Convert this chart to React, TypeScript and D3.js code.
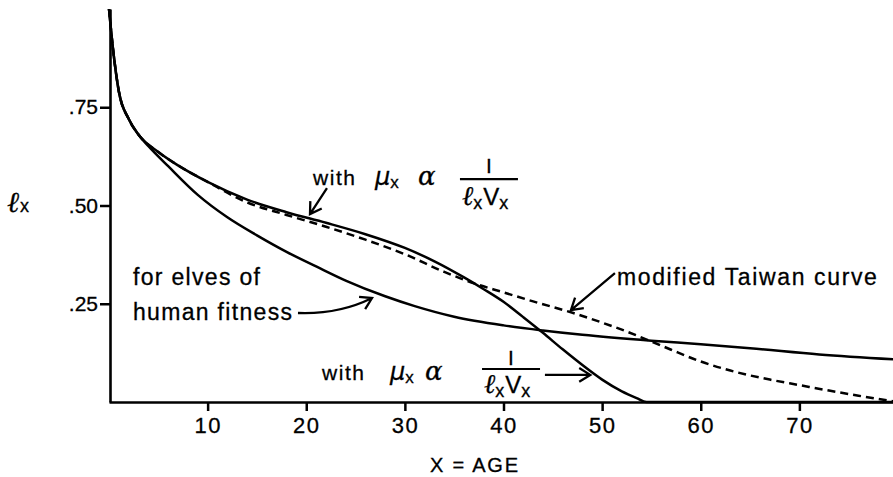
import {useEffect, useRef} from 'react';
import * as d3 from 'd3';

const WIDTH = 893;
const HEIGHT = 477;

// l_x (survivorship) against age
const elvesAge = [0, 0.4, 1, 2, 3, 4, 6, 9, 12, 15, 18, 21, 24, 28, 31, 35, 40, 44, 48, 55, 60, 65, 72, 80];
const elvesLx = [1.0, 0.9, 0.79, 0.72, 0.68, 0.651, 0.6, 0.527, 0.47, 0.424, 0.382, 0.345, 0.309, 0.269, 0.244, 0.217, 0.195, 0.182, 0.171, 0.156, 0.147, 0.137, 0.121, 0.108];

const lxvxAge = [0, 0.4, 1, 2, 3, 5, 7, 10, 14, 18, 22, 26, 30, 33, 36, 38, 40, 42, 44, 46, 48, 50, 52, 53.5, 54.5, 60, 70, 80];
const lxvxLx = [1.0, 0.9, 0.79, 0.72, 0.68, 0.636, 0.602, 0.56, 0.515, 0.483, 0.456, 0.427, 0.392, 0.358, 0.317, 0.287, 0.255, 0.216, 0.176, 0.134, 0.094, 0.057, 0.027, 0.01, 0, 0, 0, 0];

const taiwanAge = [0, 0.4, 1, 2, 3, 5, 7, 10, 14, 18, 22, 26, 30, 34, 37, 40, 43, 47, 50, 52, 55, 57, 60, 63, 67, 70, 73, 76, 80];
const taiwanLx = [1.0, 0.9, 0.79, 0.72, 0.68, 0.636, 0.602, 0.56, 0.508, 0.476, 0.446, 0.413, 0.376, 0.331, 0.302, 0.279, 0.256, 0.227, 0.202, 0.184, 0.154, 0.133, 0.103, 0.08, 0.057, 0.043, 0.029, 0.016, 0];

const xTicks = [10, 20, 30, 40, 50, 60, 70];
const xTickLabels = ['10', '20', '30', '40', '50', '60', '70'];
const yTicks = [0.25, 0.5, 0.75];
const yTickLabels = ['.25', '.50', '.75'];

// annotation anchors, in (age, l_x)
const upperWith: [number, number] = [20.68, 0.552];
const upperArrow: [number, number][] = [[22.1, 0.5445], [20.38, 0.478]];
const lowerWith: [number, number] = [21.6, 0.056];
const lowerArrow: [number, number][] = [[44.2, 0.069], [48.8, 0.069]];
const elvesText: [number, number] = [2.43, 0.298];
const elvesText2: [number, number] = [2.43, 0.209];
const elvesArrow: [number, number][] = [[19.16, 0.2265], [23.32, 0.2226], [26.67, 0.2646]];
const taiwanText: [number, number] = [51.5, 0.298];
const taiwanArrow: [number, number][] = [[51.3, 0.328], [46.84, 0.234]];

const FONT = '"Liberation Sans", Arial, sans-serif';
const INK = 0.3; // thickens the lettering a little

const App = () => {
  const svgRef = useRef<SVGSVGElement | null>(null);

  useEffect(() => {
    if (!svgRef.current) return;
    const svg = d3.select(svgRef.current);
    svg.selectAll('*').remove();

    const x = d3.scaleLinear().domain([0, 80]).range([109, 898]);
    const y = d3.scaleLinear().domain([0, 1]).range([402, 9]);
    const px = (p: [number, number]): [number, number] => [x(p[0]), y(p[1])];

    // axes
    const xAxis = svg
      .append('g')
      .attr('transform', `translate(0,${y(0)})`)
      .call(
        d3
          .axisBottom(x)
          .tickValues(xTicks)
          .tickFormat((_, i) => xTickLabels[i])
          .tickSize(9)
          .tickSizeOuter(0)
          .tickPadding(6)
      );
    xAxis.select('.domain').attr('stroke-width', 2.6);
    xAxis.selectAll('.tick line').attr('stroke-width', 2.5);
    xAxis
      .selectAll('.tick text')
      .attr('font-family', FONT)
      .attr('font-size', 22)
      .attr('letter-spacing', 1.5)
      .attr('stroke', '#000')
      .attr('stroke-width', INK)
      .attr('fill', '#000');

    const yAxis = svg
      .append('g')
      .attr('transform', `translate(${x(0) + 1},0)`)
      .call(
        d3
          .axisLeft(y)
          .tickValues(yTicks)
          .tickFormat((_, i) => yTickLabels[i])
          .tickSize(10)
          .tickSizeOuter(0)
          .tickPadding(2)
      );
    yAxis.select('.domain').attr('stroke-width', 2.6);
    yAxis.selectAll('.tick line').attr('stroke-width', 2.5);
    yAxis
      .selectAll('.tick text')
      .attr('font-family', FONT)
      .attr('font-size', 21)
      .attr('stroke', '#000')
      .attr('stroke-width', INK)
      .attr('fill', '#000');

    // y title l_x
    const yTitle = svg
      .append('text')
      .attr('x', 7)
      .attr('y', y(0.5) + 6)
      .attr('fill', '#000')
      .attr('stroke', '#000')
      .attr('stroke-width', INK);
    yTitle
      .append('tspan')
      .attr('font-family', '"DejaVu Serif", serif')
      .attr('font-style', 'italic')
      .attr('font-size', 29)
      .text('ℓ');
    yTitle
      .append('tspan')
      .attr('font-family', FONT)
      .attr('font-size', 18)
      .attr('dx', 1)
      .text('x');

    svg
      .append('text')
      .attr('x', 430)
      .attr('y', 472)
      .attr('font-family', FONT)
      .attr('font-size', 20)
      .attr('textLength', 88)
      .attr('lengthAdjust', 'spacing')
      .attr('stroke', '#000')
      .attr('stroke-width', INK)
      .text('X = AGE');

    // curves
    const line = d3
      .line<[number, number]>()
      .x((d) => x(d[0]))
      .y((d) => y(d[1]))
      .curve(d3.curveMonotoneX);
    const zip = (a: number[], b: number[]) => a.map((v, i) => [v, b[i]] as [number, number]);

    svg
      .append('path')
      .datum(zip(elvesAge, elvesLx))
      .attr('fill', 'none')
      .attr('stroke', '#000')
      .attr('stroke-width', 2.5)
      .attr('d', line);

    svg
      .append('path')
      .datum(zip(lxvxAge, lxvxLx))
      .attr('fill', 'none')
      .attr('stroke', '#000')
      .attr('stroke-width', 2.5)
      .attr('d', line);

    svg
      .append('path')
      .datum(zip(taiwanAge, taiwanLx))
      .attr('fill', 'none')
      .attr('stroke', '#000')
      .attr('stroke-width', 2.5)
      .attr('stroke-dasharray', '8 5')
      .attr('d', line);

    // arrows
    const arrowHead = (tip: [number, number], from: [number, number]) => {
      const ang = Math.atan2(tip[1] - from[1], tip[0] - from[0]);
      const len = 13;
      const spread = 0.55;
      const a = [tip[0] - len * Math.cos(ang - spread), tip[1] - len * Math.sin(ang - spread)];
      const b = [tip[0] - len * Math.cos(ang + spread), tip[1] - len * Math.sin(ang + spread)];
      return `M${a[0]},${a[1]}L${tip[0]},${tip[1]}L${b[0]},${b[1]}`;
    };

    const drawArrow = (pts: [number, number][]) => {
      const p = pts.map(px);
      const d =
        p.length === 3
          ? `M${p[0][0]},${p[0][1]}Q${p[1][0]},${p[1][1]} ${p[2][0]},${p[2][1]}`
          : `M${p[0][0]},${p[0][1]}L${p[1][0]},${p[1][1]}`;
      svg
        .append('path')
        .attr('d', d + arrowHead(p[p.length - 1], p[p.length - 2]))
        .attr('fill', 'none')
        .attr('stroke', '#000')
        .attr('stroke-width', 2.3)
        .attr('stroke-linejoin', 'miter');
    };
    drawArrow(upperArrow);
    drawArrow(lowerArrow);
    drawArrow(elvesArrow);
    drawArrow(taiwanArrow);

    const plainText = (p: [number, number], txt: string, size: number, len: number) =>
      svg
        .append('text')
        .attr('x', px(p)[0])
        .attr('y', px(p)[1])
        .attr('font-family', FONT)
        .attr('font-size', size)
        .attr('textLength', len)
        .attr('lengthAdjust', 'spacing')
        .attr('fill', '#000')
        .attr('stroke', '#000')
        .attr('stroke-width', INK)
        .text(txt);

    plainText(elvesText, 'for elves of', 23, 127);
    plainText(elvesText2, 'human fitness', 23, 159);
    plainText(taiwanText, 'modified Taiwan curve', 23, 260);

    // "with mu_x alpha 1/(l_x V_x)"
    const formula = (
      anchor: [number, number],
      o: {mu: number; alpha: number; bar0: number; bar1: number; barDy: number; numDy: number; denDy: number}
    ) => {
      const [ax, ay] = px(anchor);
      const g = svg.append('g').attr('fill', '#000').attr('stroke', '#000').attr('stroke-width', INK);
      g.append('text')
        .attr('x', ax)
        .attr('y', ay)
        .attr('font-family', FONT)
        .attr('font-size', 21)
        .attr('textLength', 42)
        .attr('lengthAdjust', 'spacing')
        .text('with');
      const mu = g.append('text').attr('x', ax + o.mu).attr('y', ay);
      mu.append('tspan')
        .attr('font-family', '"DejaVu Sans", sans-serif')
        .attr('font-style', 'italic')
        .attr('font-size', 24)
        .text('μ');
      mu.append('tspan').attr('font-family', FONT).attr('font-size', 17).attr('dy', 3).text('x');
      g.append('text')
        .attr('x', ax + o.alpha)
        .attr('y', ay)
        .attr('font-family', '"DejaVu Serif", serif')
        .attr('font-style', 'italic')
        .attr('font-size', 26)
        .text('α');
      g.append('line')
        .attr('x1', ax + o.bar0)
        .attr('x2', ax + o.bar1)
        .attr('y1', ay + o.barDy)
        .attr('y2', ay + o.barDy)
        .attr('stroke-width', 2.2);
      g.append('text')
        .attr('x', ax + (o.bar0 + o.bar1) / 2)
        .attr('y', ay + o.numDy)
        .attr('text-anchor', 'middle')
        .attr('font-family', FONT)
        .attr('font-size', 21)
        .text('I');
      const den = g
        .append('text')
        .attr('x', ax + o.bar0 + 2)
        .attr('y', ay + o.denDy);
      den.append('tspan')
        .attr('font-family', '"DejaVu Serif", serif')
        .attr('font-style', 'italic')
        .attr('font-size', 27)
        .text('ℓ');
      den.append('tspan').attr('font-family', FONT).attr('font-size', 18).attr('dy', 4).text('x');
      den.append('tspan').attr('font-family', FONT).attr('font-size', 24).attr('dy', -4).attr('dx', 1).text('V');
      den.append('tspan').attr('font-family', FONT).attr('font-size', 18).attr('dy', 4).text('x');
    };

    formula(upperWith, {mu: 62, alpha: 105, bar0: 147, bar1: 205, barDy: -6, numDy: -12, denDy: 20});
    formula(lowerWith, {mu: 68, alpha: 103, bar0: 160, bar1: 218, barDy: -11, numDy: -15, denDy: 13});
  }, []);

  return (
    <svg
      ref={svgRef}
      width={WIDTH}
      height={HEIGHT}
      style={{position: 'absolute', left: 0, top: 0, background: '#fff'}}
    />
  );
};

export default App;
